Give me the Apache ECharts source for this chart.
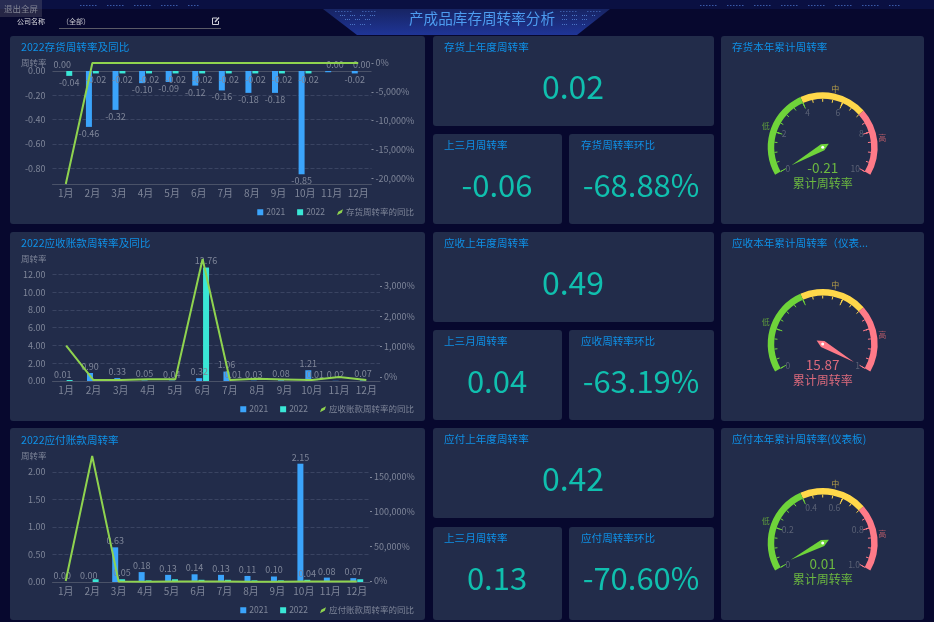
<!DOCTYPE html>
<html><head><meta charset="utf-8">
<style>html,body{margin:0;padding:0;background:#07082e;overflow:hidden}#c{width:934px;height:622px}</style>
<script src="https://cdn.jsdelivr.net/npm/echarts@6/dist/echarts.min.js"></script>
</head><body><div id="c"></div>
<script>
const months = ['1月','2月','3月','4月','5月','6月','7月','8月','9月','10月','11月','12月'];
const years = ['2021','2022'];

const invTitle = '2022存货周转率及同比';
const invLine = '存货周转率的同比';
const inv2021 = [0.00,-0.46,-0.32,-0.10,-0.09,-0.12,-0.16,-0.18,-0.18,-0.85,-0.01,-0.02];
const inv2022 = [-0.04,-0.02,-0.02,-0.02,-0.02,-0.02,-0.02,-0.02,-0.02,-0.02,0.00,0.00];
const invYoy  = [-21000,0,0,0,0,0,0,0,0,0,0,0];
const invLeftTicks = [0,-0.2,-0.4,-0.6,-0.8];
const invRightTicks = [0,-5000,-10000,-15000,-20000];
const invHidden2021 = [10];

const recTitle = '2022应收账款周转率及同比';
const recLine = '应收账款周转率的同比';
const rec2021 = [0.01,0.90,0.33,0.05,0.04,0.32,1.06,0.03,0.08,1.21,0.02,0.07];
const rec2022 = [0.11,null,null,null,null,12.76,0.01,null,null,0.01,null,null];
const recYoy  = [1030,-100,-95,-70,-70,3880,-95,-60,-80,-100,0,-100];
const recRightTicks = [0,1000,2000,3000];
const recHidden2022 = [0];

const payTitle = '2022应付账款周转率';
const payLine = '应付账款周转率的同比';
const pay2021 = [0.00,0.00,0.63,0.18,0.13,0.14,0.13,0.11,0.10,2.15,0.08,0.07];
const pay2022 = [null,0.05,0.05,0.03,0.05,0.04,0.04,0.03,0.03,0.04,null,0.05];
const payYoy  = [0,180000,-800,-900,-800,-800,-800,-900,-900,-800,-800,-800];
const payRightTicks = [0,50000,100000,150000];
const payShown2022 = [2,9];

const kpiTitles = [
  ['存货上年度周转率','上三月周转率','存货周转率环比'],
  ['应收上年度周转率','上三月周转率','应收周转率环比'],
  ['应付上年度周转率','上三月周转率','应付周转率环比']];
const kpiValues = [
  ['0.02','-0.06','-68.88%'],
  ['0.49','0.04','-63.19%'],
  ['0.42','0.13','-70.60%']];
const gaugeTitles = ['存货本年累计周转率','应收本年累计周转率（仪表...','应付本年累计周转率(仪表板)'];
const gaugeValues = [-0.21,15.87,0.01];
const gaugeMax = [10,1,1];
const gaugeName = '累计周转率';

const FONT = '"Noto Sans CJK SC","Noto Sans",sans-serif';
const BLUE='#3ba4fb', TEAL='#3ae6d6', LINE='#8fd34f', AXIS='#7f8699', TITLE='#0f90e6', KPI='#10bfae';
const PANEL='#222c4a', SPLIT='#3a4462';

const el = [];
function rect(x,y,w,h,fill,r){el.push({type:'rect',silent:true,shape:{x,y,width:w,height:h,r:r||0},style:{fill}});}
function text(x,y,t,fill,size,align){el.push({type:'text',silent:true,x,y,style:{text:t,fill,font:size+'px '+FONT,align:align||'left',verticalAlign:'middle'}});}

// page decoration
rect(0,0,934,9,'#0a1042');
el.push({type:'polygon',silent:true,shape:{points:[[323,9],[610,9],[577,35],[357,35]]},
  style:{fill:{type:'linear',x:0,y:0,x2:0,y2:1,colorStops:[{offset:0,color:'#172463'},{offset:1,color:'#1f3596'}]}}});
// dotted texture of the header
[[80,200,5],[700,900,5],[335,375,11],[560,600,11]].forEach(r=>{
  for(let x=r[0],k=0;x<r[1];x+=3,k++){ if(k%9<6) rect(x,r[2],1.5,1,'#3a5aa8'); }
});
[[340,375,15],[345,372,19],[350,372,24],[562,595,15],[562,590,19],[562,585,24]].forEach(r=>{
  for(let x=r[0],k=0;x<r[1];x+=2,k++){ if(k%5<3) rect(x,r[2],1,1,'#4a74c4'); }
});
text(482,18,'产成品库存周转率分析','#4d9cf0',14.6,'center');
rect(0,0,42,17,'rgba(120,120,130,0.28)');
text(21,8.5,'退出全屏','#858796',8.5,'center');
text(17,21,'公司名称','#d8d8de',7);
text(62,21,'（全部）','#c8c8d0',7);
rect(59,28,162,1,'#5a5a66');
el.push({type:'polyline',silent:true,shape:{points:[[217,18],[212.5,18],[212.5,24.5],[218.5,24.5],[218.5,21]]},style:{stroke:'#d0d0d8',fill:null,lineWidth:1}});
el.push({type:'polyline',silent:true,shape:{points:[[215,22],[219,17.5]]},style:{stroke:'#d0d0d8',fill:null,lineWidth:1.4}});

const panelY=[36,232,428], panelH=[188,189,192];
panelY.forEach((y,i)=>{rect(10,y,415,panelH[i],PANEL,3);});
const bigY=[36,232,428], bigH=[90,90,90], smallY=[134,330,527], smallH=[90,90,93];
const gaugeH=[188,189,192];
bigY.forEach((y,i)=>{
  rect(433,y,281,bigH[i],PANEL,3);
  rect(433,smallY[i],129,smallH[i],PANEL,3);
  rect(569,smallY[i],145,smallH[i],PANEL,3);
  rect(721,y,203,gaugeH[i],PANEL,3);
  text(444,y+11,kpiTitles[i][0],TITLE,10.6);
  text(444,smallY[i]+11,kpiTitles[i][1],TITLE,10.6);
  text(581,smallY[i]+11,kpiTitles[i][2],TITLE,10.6);
  text(732,y+11,gaugeTitles[i],TITLE,10.6);
  text(573,y+51,kpiValues[i][0],KPI,32,'center');
  text(497,smallY[i]+51,kpiValues[i][1],KPI,31,'center');
  text(641,smallY[i]+51,kpiValues[i][2],KPI,31,'center');
});
text(21,47,invTitle,TITLE,10.6);
text(21,243,recTitle,TITLE,10.6);
text(21,440,payTitle,TITLE,10.6);

const grids=[
  {left:52.5,top:63,width:319,height:121},
  {left:52.5,top:259,width:327.5,height:122},
  {left:52.5,top:456,width:317.5,height:126}];
const leftAxes=[{min:-0.93,max:0.066,ticks:invLeftTicks},{min:0,max:13.72,interval:2},{min:0,max:2.29,interval:0.5}];
const rightAxes=[{min:-21000,max:0,ticks:invRightTicks},{min:-130,max:3880,ticks:recRightTicks},{min:-1400,max:180000,ticks:payRightTicks}];
const fmtNum=v=>Number(v).toFixed(2);
const fmtPct=v=>Number(v).toLocaleString('en-US')+'%';

const xAxis=[],yAxis=[],series=[],legend=[];
const sets=[
 {a:inv2021,b:inv2022,y:invYoy,n:invLine,hideA:invHidden2021,showB:null,hideB:[]},
 {a:rec2021,b:rec2022,y:recYoy,n:recLine,hideA:[],showB:null,hideB:recHidden2022},
 {a:pay2021,b:pay2022,y:payYoy,n:payLine,hideA:[],showB:payShown2022,hideB:[]}];
const legendTop=[208,405,606];
const barLabel={show:true,distance:2,color:AXIS,fontSize:9,fontFamily:FONT,formatter:p=>fmtNum(p.value)};
sets.forEach((s,i)=>{
  const L=leftAxes[i];
  xAxis.push({type:'category',gridIndex:i,data:months,position:'bottom',axisLine:{onZero:false,lineStyle:{color:'#4a5268'}},axisTick:{show:false},
    axisLabel:{color:AXIS,fontSize:10,fontFamily:FONT,margin:4,interval:0}});
  const leftLabel={color:AXIS,fontSize:9,fontFamily:FONT,margin:7,showMaxLabel:false,formatter:fmtNum};
  if(L.ticks){leftLabel.customValues=L.ticks;leftLabel.showMaxLabel=true;}
  const leftAxis={type:'value',gridIndex:i,min:L.min,max:L.max,
    name:'周转率',nameLocation:'end',nameGap:0,nameTextStyle:{color:AXIS,fontSize:8.5,fontFamily:FONT,align:'right',verticalAlign:'middle',padding:[0,6,2,0]},
    axisLine:{show:false},axisTick:{show:false},axisLabel:leftLabel,
    splitLine:L.ticks?{show:false}:{show:true,showMinLine:false,showMaxLine:false,lineStyle:{color:SPLIT,type:'dashed'}}};
  if(L.interval) leftAxis.interval=L.interval;
  yAxis.push(leftAxis);
  yAxis.push({type:'value',gridIndex:i,position:'right',min:rightAxes[i].min,max:rightAxes[i].max,
    axisLine:{show:false},axisTick:{show:true,length:2,customValues:rightAxes[i].ticks,lineStyle:{color:AXIS}},
    axisLabel:{color:AXIS,fontSize:9,fontFamily:FONT,margin:4,customValues:rightAxes[i].ticks,formatter:fmtPct},splitLine:{show:false}});
  const mk=(arr,test)=>arr.map((v,k)=>({value:v,label:{show:test(k),position:v<0?'bottom':'top'}}));
  series.push({type:'bar',name:years[0],xAxisIndex:i,yAxisIndex:i*2,barWidth:6,barGap:'15%',itemStyle:{color:BLUE},label:barLabel,
    data:mk(s.a,k=>!s.hideA.includes(k)),
    markLine:L.ticks?{silent:true,z:1,symbol:'none',label:{show:false},
      data:L.ticks.map(v=>({yAxis:v,lineStyle:v===0?{color:'#4a5268',type:'solid',width:1}:{color:SPLIT,type:'dashed',width:1}}))}:undefined});
  series.push({type:'bar',name:years[1],xAxisIndex:i,yAxisIndex:i*2,barWidth:6,barGap:'15%',itemStyle:{color:TEAL},label:barLabel,
    data:mk(s.b,k=>s.b[k]!==null&&!s.hideB.includes(k)&&(!s.showB||s.showB.includes(k)))});
  series.push({type:'line',name:s.n,xAxisIndex:i,yAxisIndex:i*2+1,data:s.y,showSymbol:false,symbol:'none',clip:false,z:5,
    lineStyle:{color:LINE,width:2},itemStyle:{color:LINE}});
  legend.push({data:[{name:years[0],icon:'rect'},{name:years[1],icon:'rect'},{name:s.n,icon:'path://M0 10 L2 4 L10 0 L8 6 Z'}],
    right:520,top:legendTop[i],itemWidth:6,itemHeight:6,itemGap:12,selectedMode:false,padding:0,
    textStyle:{color:AXIS,fontSize:8.5,fontFamily:FONT,padding:[0,0,0,-2]}});
});

const gaugeCY=[147.3,344,543];
const CG='#6fd43a',CY='#ffd84a',CR='#ff7a88';
const gaugeText=['#6cb840','#dc6a7c','#6cb840'];
const gaugeLabelAll=[true,false,true];
gaugeValues.forEach((v,i)=>{
  const m=gaugeMax[i];
  series.push({type:'gauge',center:[822.7,gaugeCY[i]],radius:55,startAngle:210,endAngle:-30,min:0,max:m,splitNumber:5,
    axisLine:{lineStyle:{width:6.5,color:[[0.4,CG],[0.7,CY],[1,CR]]}},
    axisTick:{show:true,splitNumber:4,distance:0,length:3,lineStyle:{color:'auto',width:1}},
    splitLine:{show:true,distance:0,length:6,lineStyle:{color:'auto',width:1}},
    axisLabel:{color:'#5b6276',fontSize:8.5,fontFamily:FONT,distance:6,
      formatter:x=>{ if(!gaugeLabelAll[i]) return (x===0||x===m)?String(x):''; return m===1?(x===0?'0':x.toFixed(1)):String(Math.round(x)); }},
    pointer:{show:true,length:36,width:3.5,itemStyle:{color:'auto'}},
    anchor:{show:true,showAbove:true,size:3,itemStyle:{color:'#fff',borderWidth:0}},
    title:{offsetCenter:[0,36],color:gaugeText[i],fontSize:12,fontFamily:FONT},
    detail:{offsetCenter:[0,21],color:gaugeText[i],fontSize:13.5,fontWeight:'normal',fontFamily:FONT,formatter:x=>x.toFixed(2)},
    data:[{value:v,name:gaugeName}]});
  const cy=gaugeCY[i];
  text(765.7,cy-21.6,'低','#5f9e3c',8,'center');
  text(835.3,cy-58.6,'中','#b9a048',8,'center');
  text(882.3,cy-9,'高','#b45a68',8,'center');
});

const chart=echarts.init(document.getElementById('c'),null,{renderer:'canvas'});
chart.setOption({animation:false,backgroundColor:'#07082e',grid:grids,xAxis,yAxis,series,legend,graphic:{elements:el}});
</script></body></html>
